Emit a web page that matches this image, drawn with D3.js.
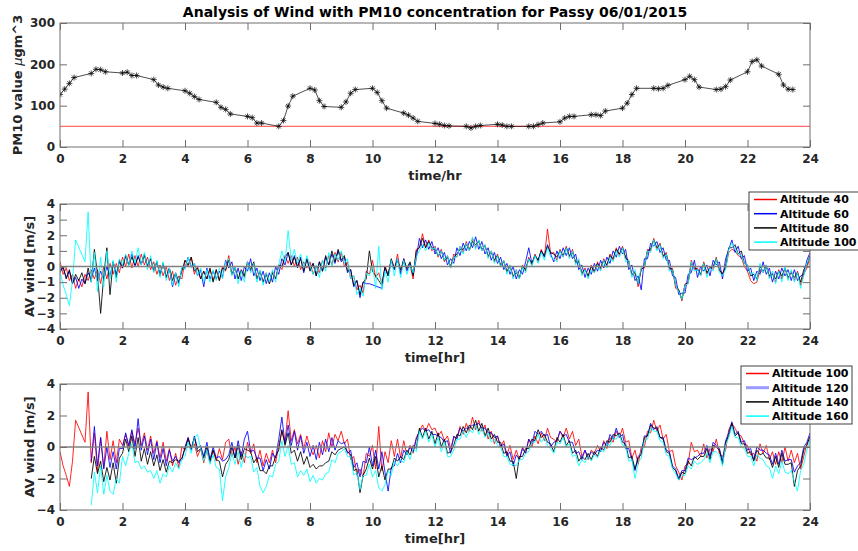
<!DOCTYPE html>
<html><head><meta charset="utf-8">
<script src="https://cdn.jsdelivr.net/npm/d3@7"></script>
<style>
body{margin:0;background:#fff;}
svg{display:block;font-family:"DejaVu Sans",sans-serif;font-weight:bold;}
</style>
</head><body>
<svg id="chart" width="858" height="551"></svg>
<script>
// ---------------- DATA ----------------
const titleText = "Analysis of Wind with PM10 concentration for Passy 06/01/2015";
const xTicks = [0,2,4,6,8,10,12,14,16,18,20,22,24];
const pm10Ticks = [0,100,200,300];
const wind2Ticks = [-4,-3,-2,-1,0,1,2,3,4];
const wind3Ticks = [-4,-2,0,2,4];
const pm10Limit = 50;

const pm10Times = [
 0,0.15,0.3,0.45, 1,1.15,1.3,1.45, 2,2.15,2.3,2.45, 3,3.15,3.3,3.45,
 4,4.15,4.3,4.45, 5,5.15,5.3,5.45, 6,6.15,6.3,6.45, 7,7.15,7.3,7.45,
 8,8.15,8.3,8.45, 9,9.15,9.3,9.45, 10,10.15,10.3,10.45, 11,11.15,11.3,11.45,
 12,12.15,12.3,12.45, 13,13.15,13.3,13.45, 14,14.15,14.3,14.45, 15,15.15,15.3,15.45,
 16,16.15,16.3,16.45, 17,17.15,17.3,17.45, 18,18.15,18.3,18.45, 19,19.15,19.3,19.45,
 20,20.15,20.3,20.45, 21,21.15,21.3,21.45, 22,22.15,22.3,22.45, 23,23.15,23.3,23.45];
const pm10Values = [
 127,140,154,168, 178,188,187,182, 179,181,173,173, 163,150,145,142,
 136,130,122,115, 108,96,91,80, 74,71,58,58, 50,64,99,123,
 142,138,112,98, 96,109,130,139, 142,132,112,94, 82,77,70,62,
 57,55,52,51, 50,46,50,52, 55,53,50,50, 50,50,54,58,
 61,70,74,74, 78,78,76,87, 94,106,127,142, 142,141,142,149,
 163,171,163,145, 139,140,146,162, 182,207,211,196, 176,150,140,139];

// wind samples every 0.1 h from 0 to 24 h (null = no sample)
const windStep = 0.1;
const wind40 = [
 0.3,-0.5,-0.1,-0.9,-0.5,-1.4,-0.8,-1.3,-0.5,-0.9,
 -0.2,-0.8,-0.2,-1.1,0.0,-0.8,0.2,-0.5,0.2,-0.4,
 0.6,0.0,0.8,-0.1,0.7,0.0,0.8,0.1,0.6,-0.2,
 0.3,-0.5,0.1,-0.6,0.0,-0.9,-0.3,-1.2,-0.6,-0.8,
 0.4,0.0,0.6,-0.5,0.0,-0.8,-0.3,-0.8,-0.2,-0.9,
 -0.2,-0.9,0.0,-0.3,0.7,-0.5,0.0,-0.8,-0.3,-0.7,
 0.3,-0.3,0.2,-0.8,-0.3,-1.0,-0.4,-1.1,-0.3,-0.8,
 0.1,-0.2,0.7,0.2,0.7,0.0,0.6,-0.2,0.3,-0.1,
 0.3,-0.5,0.0,-0.4,0.4,-0.1,0.7,0.1,0.9,0.3,
 0.9,0.0,0.3,-0.8,-0.6,-1.5,-1.2,-1.7,-0.3,-0.5,
 0.4,-0.7,-0.4,-1.1,0.0,-0.5,0.4,-0.2,0.8,-0.4,
 0.5,-0.2,0.1,-0.8,1.1,1.2,2.1,1.2,1.7,1.0,
 1.3,0.6,1.1,0.3,0.7,-0.1,0.8,0.6,1.3,0.9,
 1.6,1.0,1.8,1.2,1.7,1.0,1.4,0.6,1.0,0.3,
 0.8,0.0,0.4,-0.4,0.1,-0.7,-0.2,-0.8,0.1,-0.3,
 0.6,0.1,0.8,0.3,1.1,0.6,2.4,0.8,0.9,0.4,
 1.1,0.6,1.3,0.6,1.1,0.2,0.4,-0.5,-0.1,-0.7,
 0.1,-0.4,0.3,-0.2,0.5,0.0,0.8,0.4,1.2,0.7,
 1.3,0.5,0.4,-0.6,-0.3,-1.3,-0.1,-0.1,1.1,1.0,
 1.8,1.1,1.5,0.6,0.9,-0.2,-0.1,-1.4,-1.5,-2.2,
 -1.1,-1.1,0.4,-0.2,-0.1,-0.6,0.3,-0.5,0.0,-0.2,
 0.6,-0.3,-0.4,-0.1,0.9,1.1,1.0,0.7,0.6,0.0,
 -0.3,-0.9,-1.1,-1.0,-0.2,-0.4,0.1,-0.7,-0.4,-1.0,
 -0.2,-0.8,-0.1,-0.8,-0.3,-0.9,-0.3,-1.2,-0.5,-0.1,
 0.6];
const wind60 = [
 -0.2,-0.1,-0.7,-0.3,-1.1,-0.7,-1.4,-0.8,-1.1,-0.4,
 -0.8,-0.1,-0.9,-0.3,-0.8,0.0,-0.6,0.3,-0.5,0.3,
 -0.1,0.7,0.1,0.8,0.0,0.7,0.1,0.8,0.0,0.5,
 -0.3,0.3,-0.6,0.2,-0.7,-0.1,-1.3,-0.5,-1.1,-0.1,
 -0.1,0.6,0.0,0.2,-0.6,-0.2,-1.3,-0.1,-0.8,-0.3,
 -0.8,-0.3,-0.7,0.4,-0.1,0.3,-0.8,-0.1,-0.9,0.0,
 -0.3,0.5,-0.6,-0.1,-0.9,-0.3,-1.1,-0.4,-1.0,0.0,
 -0.5,0.5,0.1,0.9,0.1,0.7,-0.1,0.6,-0.4,0.5,
 -0.2,0.2,-0.6,0.3,-0.3,0.6,0.1,0.8,0.2,1.0,
 0.3,0.6,-0.4,-0.2,-1.3,-0.9,-2.0,-1.0,-1.1,-1.1,
 null,null,null,-1.4,-0.1,-0.6,0.4,-0.2,0.5,-0.5,
 0.5,-0.3,0.2,-0.5,0.5,1.8,1.2,1.7,1.1,1.6,
 0.8,1.2,0.5,0.9,0.1,0.5,0.2,1.2,0.7,1.5,
 1.0,1.6,1.2,1.9,1.1,1.6,0.8,1.2,0.4,0.9,
 0.2,0.6,-0.2,0.2,-0.5,0.0,-0.8,-0.2,-0.5,0.3,
 1.2,0.2,0.7,0.4,1.0,0.6,1.4,0.8,0.3,1.0,
 0.5,1.2,0.7,1.2,0.5,0.8,-0.2,0.1,-0.7,-0.1,
 -0.5,0.2,-0.3,0.4,-0.1,0.6,0.2,1.0,0.6,1.3,
 0.8,1.1,-0.2,0.1,-0.9,-0.6,-1.5,0.5,0.5,1.5,
 1.3,1.6,0.9,1.2,0.4,0.4,-0.6,-0.7,-1.8,-1.7,
 -1.7,-0.5,-0.4,0.4,-0.7,0.0,-0.3,0.1,-0.6,0.4,
 0.1,0.3,-0.8,0.5,1.1,1.7,0.9,1.3,0.5,0.7,
 -0.3,-0.1,-0.9,-0.3,-0.5,0.3,-0.5,-0.1,-1.0,-0.3,
 -0.8,-0.1,-0.6,-0.2,-0.9,-0.2,-0.9,-0.6,-0.5,0.4,
 0.9];
const wind80 = [
 -0.4,0.0,-0.8,-0.2,-1.1,-0.5,-0.9,-0.4,-1.1,-0.1,
 -1.0,1.1,-0.5,-3.0,-0.6,1.2,-1.8,0.3,-0.7,0.4,
 -0.1,0.7,0.1,0.6,0.1,0.6,0.2,0.7,0.0,0.5,
 -0.3,0.3,-0.5,0.2,-0.7,-0.1,-0.9,-0.4,-1.0,-0.3,
 0.4,0.1,0.6,-0.3,-0.1,-0.8,-0.3,-0.8,-0.1,-1.0,
 -0.2,-0.9,-0.1,-0.2,0.4,-0.5,-0.1,-0.8,-0.2,-0.6,
 0.3,-0.2,0.3,-0.8,-0.3,-1.0,-0.5,-1.1,-0.4,-0.8,
 0.1,0.0,0.6,0.9,0.1,0.6,0.0,0.5,-0.3,0.5,
 -0.3,0.2,-0.6,0.3,-0.3,0.7,0.1,1.0,0.3,1.1,
 0.4,0.7,-0.3,-0.2,-1.2,-0.9,-1.8,-1.0,-0.8,1.0,
 -0.3,-0.6,-0.9,-1.2,0.0,-0.6,0.5,-0.1,0.4,-0.2,
 0.4,-0.1,0.3,-0.6,1.0,1.2,1.8,1.2,1.6,1.2,
 1.1,0.7,1.0,0.4,0.6,0.0,0.6,0.8,1.1,1.1,
 1.4,1.1,1.6,1.4,1.6,1.1,1.3,0.7,0.9,0.4,
 0.7,0.1,0.3,-0.3,0.0,-0.6,-0.4,-0.7,0.0,-0.2,
 0.5,0.2,0.7,0.4,1.0,0.7,1.3,0.9,0.8,0.6,
 1.0,0.7,1.2,0.7,0.9,0.3,0.3,-0.4,-0.2,-0.6,
 0.0,-0.3,0.2,-0.1,0.4,0.1,0.7,0.5,1.1,0.8,
 1.2,0.6,0.3,-0.5,-0.4,-1.1,-0.2,0.0,1.0,1.1,
 1.7,1.2,1.4,0.7,0.8,-0.1,-0.2,-1.2,-1.5,-2.1,
 -1.2,-1.0,0.2,-0.1,-0.2,-0.5,0.2,-0.4,-0.1,0.0,
 0.5,-0.2,-0.5,0.0,1.2,1.2,1.4,0.8,1.0,0.2,
 0.1,-0.6,-0.5,-0.8,0.0,-0.3,0.0,-0.6,-0.5,-0.8,
 -0.3,-0.6,-0.1,-0.7,-0.4,-0.7,-0.4,-1.0,-0.2,0.1,
 0.7];
const wind100 = [
 -0.3,-1.2,-1.8,-2.5,-0.9,1.7,null,null,0.3,3.5,
 -1.0,0.9,-1.6,0.6,-1.3,1.0,-0.8,0.4,-1.0,0.5,
 0.1,0.8,0.0,1.0,0.2,1.2,0.1,0.9,-0.2,0.7,
 -0.4,0.4,-0.7,0.3,-0.9,-0.1,-1.2,-0.4,-1.3,0.0,
 -0.2,0.6,-0.1,0.2,-0.6,-0.1,-1.0,-0.2,-1.0,-0.2,
 -0.9,-0.1,-0.8,0.3,0.5,-0.6,0.0,-1.1,-0.3,-1.0,
 0.3,-0.4,0.2,-1.0,-0.2,-1.2,-0.4,-1.0,-0.2,-1.0,
 0.1,1.0,0.3,2.3,0.4,1.1,0.2,0.8,-0.1,0.7,
 0.0,-0.5,0.1,-0.7,0.4,-0.3,0.9,0.0,0.8,0.4,
 1.0,0.2,0.5,-0.8,-0.6,-1.8,-1.4,-1.9,-0.4,-0.6,
 0.1,-1.4,1.3,-1.5,-0.3,-1.0,0.4,-0.6,0.5,-0.7,
 0.4,-0.5,0.1,-0.4,0.6,1.0,1.4,1.0,1.5,1.1,
 1.2,0.7,1.0,0.4,0.7,-0.1,0.6,0.6,1.3,0.8,
 1.5,1.0,1.9,1.1,1.7,1.0,1.4,0.5,1.0,0.2,
 0.7,0.0,0.4,-0.5,0.1,-0.8,-0.2,-0.8,0.0,-0.4,
 0.5,0.0,0.7,0.2,0.9,0.4,1.2,0.6,0.5,0.3,
 1.0,0.6,1.2,0.5,1.0,0.1,0.5,-0.6,-0.2,-0.8,
 -0.2,-0.4,0.1,-0.3,0.4,-0.1,0.6,0.3,1.0,0.6,
 1.2,0.3,0.4,-0.7,-0.2,-1.1,0.0,0.0,1.0,0.9,
 1.7,1.0,1.4,0.5,0.8,-0.3,-0.2,-1.2,-1.6,-2.1,
 -1.2,-1.1,0.3,-0.3,-0.2,-0.6,0.2,-0.7,-0.1,-0.3,
 0.5,-0.4,-0.6,-0.2,1.1,1.5,1.2,0.8,0.7,0.2,
 0.1,-0.5,-0.4,-0.9,0.2,-0.4,0.1,-0.8,-0.3,-1.1,
 -0.3,-1.0,0.0,-0.9,-0.2,-1.0,-0.4,-1.4,-0.6,0.2,
 0.6];
const wind120 = [
 null,null,null,null,null,null,null,null,null,null,
 -0.9,1.3,-1.2,0.6,-1.4,0.0,-1.3,-0.3,-1.4,-0.1,
 -0.1,0.9,0.1,1.1,-0.1,1.8,-0.2,0.7,-0.5,0.5,
 -0.8,0.3,-1.0,-0.1,-1.2,-0.2,-0.9,-0.6,-1.0,-0.8,
 0.0,0.6,-0.2,0.7,-0.1,0.1,-0.6,0.3,-0.8,0.0,
 -0.7,-0.6,-0.9,-0.8,-0.5,0.3,-0.7,0.4,-0.6,0.5,
 1.0,-0.3,-0.2,-0.7,-0.7,-1.5,-0.8,-1.4,-0.4,-0.7,
 0.5,1.9,0.2,1.4,0.1,1.0,-0.2,0.7,-0.4,0.3,
 -0.6,0.1,-0.8,0.3,-0.5,0.5,-0.3,0.6,-0.2,0.4,
 0.2,0.3,-0.4,-0.2,-1.3,-1.0,-1.9,-0.9,-1.0,0.0,
 -1.2,-0.2,-1.4,-0.3,-1.6,-2.8,-1.3,-1.2,-0.4,-1.0,
 -0.2,-0.5,0.0,-0.3,0.5,1.0,1.2,1.0,1.1,0.8,
 0.8,0.7,0.6,0.3,0.4,-0.4,0.7,0.5,1.2,1.0,
 1.2,1.2,1.4,1.4,1.5,1.2,1.2,0.9,0.9,0.6,
 0.7,0.0,0.2,-0.6,-0.3,-1.2,-0.5,-0.8,-0.1,-0.4,
 0.5,0.2,1.0,0.8,1.0,0.7,0.8,0.0,0.3,0.4,
 1.0,0.7,0.8,0.3,0.3,-0.4,-0.3,-0.8,-0.2,-0.7,
 -0.3,-0.5,-0.2,-0.3,0.3,0.1,0.8,0.5,1.2,0.6,
 0.8,-0.1,-0.1,-0.8,-1.5,-0.6,-0.4,0.7,0.7,1.5,
 1.1,1.3,0.6,0.6,-0.2,-0.3,-1.2,-1.4,-2.0,-1.5,
 -1.5,-0.7,-0.8,-0.7,-0.6,-0.4,-0.4,0.1,-0.6,0.3,
 0.1,-0.1,-0.9,0.4,0.9,1.6,0.8,1.0,0.3,0.4,
 -0.2,-0.1,-0.8,0.0,-0.2,-0.2,-0.4,-0.5,-1.1,-0.4,
 -1.1,-0.2,-0.9,-0.8,-0.8,-1.6,-1.2,-1.0,0.0,0.3,
 0.9];
const wind140 = [
 null,null,null,null,null,null,null,null,null,null,
 -2.0,-0.6,-1.7,-0.9,-2.2,-1.3,-2.1,-1.0,-2.3,-0.7,
 -0.4,0.5,-0.3,0.7,-0.6,0.6,-0.9,-0.1,-1.1,-0.3,
 -1.2,-0.5,-1.5,-0.8,-1.6,-0.9,-1.0,-0.8,-0.9,-0.7,
 -0.1,0.5,-0.1,0.6,-0.3,-0.1,-0.7,0.0,-0.9,-0.2,
 -0.8,-0.9,-1.9,-1.1,-0.8,0.0,-0.7,0.1,-0.8,-0.1,
 -0.2,-0.3,-1.0,-0.7,-1.5,-1.5,-1.7,-1.2,-1.2,-0.6,
 -0.2,1.1,0.1,0.9,-0.4,-0.2,-0.9,-0.3,-1.1,-0.6,
 -1.3,-1.1,-1.4,-1.2,-1.2,-1.0,-0.9,-0.3,-0.5,-0.2,
 -0.1,0.0,-0.3,-0.5,-1.5,-1.4,-2.9,-1.8,-1.4,-0.7,
 -1.4,-0.6,-1.9,-1.2,-2.1,-1.4,-1.4,-0.7,-0.9,-0.6,
 -0.8,-0.2,-0.5,0.1,-0.1,1.2,0.6,1.2,0.5,1.0,
 0.2,0.9,0.0,0.5,-0.4,-0.3,0.1,0.8,0.7,1.3,
 0.9,1.4,1.1,1.7,1.0,1.5,0.7,1.2,0.5,0.8,
 0.3,0.3,-0.4,-0.3,-0.9,-0.9,-2.0,-0.6,-0.6,-0.1,
 -0.1,0.5,0.4,1.1,0.6,0.8,0.3,0.2,-0.3,0.6,
 0.3,0.8,0.1,0.4,-0.4,-0.2,-0.9,-0.6,-0.8,-0.4,
 -0.8,-0.3,-0.6,0.0,-0.2,0.4,0.3,0.8,0.7,0.9,
 0.3,0.2,-0.7,-0.6,-1.4,-0.7,-0.5,0.6,0.7,1.4,
 1.2,1.2,0.6,0.5,-0.3,-0.4,-1.3,-1.5,-2.1,-1.6,
 -1.7,-0.9,-1.2,-0.6,-0.8,-0.6,-0.6,-0.1,-0.8,0.1,
 0.0,-0.2,-1.1,0.3,0.7,1.5,0.7,0.9,0.2,0.2,
 -0.4,-0.3,-0.9,-0.2,-0.5,-0.4,-0.7,-0.7,-1.3,-0.6,
 -1.3,-0.4,-1.1,-1.1,-1.0,-2.5,-1.5,-1.2,-0.2,0.1,
 0.7];
const wind160 = [
 null,null,null,null,null,null,null,null,null,null,
 -3.7,-1.6,-2.9,-1.2,-3.0,-1.8,-2.8,-3.0,-2.0,-2.3,
 -0.6,-1.2,-0.4,0.2,-1.0,-0.9,-1.4,-1.2,-1.6,-1.5,
 -2.0,-1.5,-2.3,-1.7,-1.9,-1.2,-1.6,-1.0,-1.4,-0.8,
 -0.6,0.3,-0.4,0.6,0.8,-0.1,-0.9,-0.2,-1.1,-0.5,
 -1.3,-1.4,-3.4,-1.9,-1.3,-0.4,-1.1,-0.3,-1.3,-0.4,
 -0.7,-0.6,-1.6,-1.3,-2.5,-2.9,-2.5,-1.8,-1.9,-1.1,
 -0.9,0.4,-0.6,0.1,-1.1,-1.0,-1.9,-1.5,-1.8,-1.4,
 -2.2,-1.8,-2.3,-2.0,-2.1,-1.7,-1.6,-0.8,-1.0,-0.4,
 -0.3,-0.1,-0.6,-0.6,-1.8,-1.6,-2.7,-1.8,-1.8,-1.1,
 -1.9,-1.5,-2.6,-2.8,-2.4,-1.5,-1.8,-0.9,-1.2,-0.8,
 -1.0,-0.3,-0.8,-0.1,-0.3,1.0,0.5,1.0,0.3,0.8,
 0.0,0.6,-0.3,0.3,-0.6,-0.6,-0.2,0.5,0.5,1.0,
 0.6,1.1,0.9,1.4,0.8,1.2,0.6,0.9,0.3,0.5,
 0.1,0.0,-0.6,-0.6,-1.1,-1.1,-1.2,-0.8,-0.8,-0.4,
 -0.3,0.3,0.3,0.8,0.3,0.6,0.1,-0.1,-0.4,0.3,
 0.2,0.6,0.0,0.2,-0.6,-0.5,-1.2,-0.8,-1.0,-0.6,
 -0.9,-0.5,-0.7,-0.2,-0.3,0.2,0.1,0.6,0.5,0.8,
 0.1,0.0,-0.9,-0.8,-2.0,-1.0,-0.7,0.4,0.5,1.2,
 1.0,1.0,0.4,0.3,-0.5,-0.6,-1.4,-1.7,-2.1,-1.8,
 -1.8,-1.2,-1.4,-0.9,-1.1,-1.0,-0.8,-0.4,-1.0,-0.3,
 -0.3,-0.5,-1.2,0.1,0.6,1.3,0.6,0.6,0.0,-0.1,
 -0.6,-0.6,-1.2,-0.5,-0.7,-0.8,-1.2,-1.3,-2.0,-1.2,
 -1.7,-0.9,-1.6,-1.7,-1.5,-2.2,-2.8,-1.5,-1.1,-0.2,
 0.5];

const panel2Names = ["Altitude 40","Altitude 60","Altitude 80","Altitude 100"];
const panel3Names = ["Altitude 100","Altitude 120","Altitude 140","Altitude 160"];
const seriesColors = ["#ff0000","#0000ff","#000000","#00ffff"];

// ---------------- DRAW ----------------
const svg = d3.select("#chart");
const L = 60, R = 810;
const x = d3.scaleLinear().domain([0,24]).range([L,R]);
const axisColor = "#6e6e6e", textColor = "#262626";

svg.append("text").attr("x",(L+R)/2).attr("y",17).attr("text-anchor","middle")
  .attr("font-size",14).attr("fill","#000").text(titleText);

function drawAxes(g, y, yTicks, top, bottom, xLabel, yLabel, yLabelX){
  g.append("g").attr("transform",`translate(0,${bottom})`)
    .call(d3.axisBottom(x).tickValues(xTicks).tickSize(-7).tickSizeOuter(0).tickPadding(7.5));
  g.append("g").attr("transform",`translate(0,${top})`)
    .call(d3.axisTop(x).tickValues(xTicks).tickSize(-7).tickSizeOuter(0).tickFormat(""));
  g.append("g").attr("transform",`translate(${L},0)`)
    .call(d3.axisLeft(y).tickValues(yTicks).tickSize(-7).tickSizeOuter(0).tickPadding(5));
  g.append("g").attr("transform",`translate(${R},0)`)
    .call(d3.axisRight(y).tickValues(yTicks).tickSize(-7).tickSizeOuter(0).tickFormat(""));
  g.selectAll(".domain").remove();
  g.selectAll(".tick line").attr("stroke",axisColor);
  g.selectAll(".tick text").attr("fill",textColor).attr("font-size",12)
    .attr("font-family","DejaVu Sans").attr("font-weight","bold");
  g.append("rect").attr("x",L).attr("y",top).attr("width",R-L).attr("height",bottom-top)
    .attr("fill","none").attr("stroke",axisColor).attr("stroke-width",1);
  g.append("text").attr("x",(L+R)/2).attr("y",bottom+33).attr("text-anchor","middle")
    .attr("font-size",13).attr("fill",textColor).text(xLabel);
  const yl = g.append("text").attr("transform",`translate(${yLabelX},${(top+bottom)/2}) rotate(-90)`)
    .attr("text-anchor","middle").attr("font-size",13).attr("fill",textColor);
  if (Array.isArray(yLabel)) {
    yLabel.forEach(p => { const t = yl.append("tspan").text(p.t); if (p.i) t.attr("font-style","italic").attr("font-weight","normal"); });
  } else yl.text(yLabel);
}

function clip(id, top, bottom){
  svg.append("clipPath").attr("id",id).append("rect")
    .attr("x",L).attr("y",top).attr("width",R-L).attr("height",bottom-top);
}

// ---- Panel 1 ----
{
  const top = 23, bottom = 147;
  const y = d3.scaleLinear().domain([0,300]).range([bottom,top]);
  clip("c1", top, bottom);
  const g = svg.append("g");
  const dg = g.append("g").attr("clip-path","url(#c1)");
  dg.append("line").attr("x1",x(0)).attr("x2",x(24)).attr("y1",y(pm10Limit)).attr("y2",y(pm10Limit))
    .attr("stroke","#ff6a6a").attr("stroke-width",1.4);
  const pts = pm10Times.map((t,i)=>({t, v: pm10Values[i]}));
  dg.append("path").datum(pts)
    .attr("d", d3.line().x(d=>x(d.t)).y(d=>y(d.v)))
    .attr("fill","none").attr("stroke","#000").attr("stroke-width",0.7);
  const star = "M-3,0H3M0,-3V3M-2.1,-2.1L2.1,2.1M-2.1,2.1L2.1,-2.1";
  dg.selectAll(".m").data(pts).join("path")
    .attr("transform", d=>`translate(${x(d.t)},${y(d.v)})`)
    .attr("d", star).attr("stroke","#000").attr("stroke-width",0.7).attr("fill","none");
  drawAxes(g, y, pm10Ticks, top, bottom, "time/hr",
    [{t:"PM10 value "},{t:"μ",i:true},{t:"gm^3"}], 22);
}

function windPanel(id, top, bottom, yTicks, seriesList, names, legend){
  const y = d3.scaleLinear().domain([-4,4]).range([bottom,top]);
  clip(id, top, bottom);
  const g = svg.append("g");
  const dg = g.append("g").attr("clip-path",`url(#${id})`);
  const line = d3.line().x(d=>x(d.t)).y(d=>y(d.v));
  seriesList.forEach((vals,k)=>{
    const pts = vals.map((v,i)=>({t:i*windStep, v})).filter(d=>d.v!==null);
    dg.append("path").datum(pts).attr("d",line).attr("fill","none")
      .attr("stroke",seriesColors[k]).attr("stroke-width",1).attr("stroke-opacity",0.85)
      .attr("stroke-linejoin","round");
  });
  dg.append("line").attr("x1",x(0)).attr("x2",x(24)).attr("y1",y(0)).attr("y2",y(0))
    .attr("stroke","#808080").attr("stroke-width",1.5);
  drawAxes(g, y, yTicks, top, bottom, "time[hr]", "AV wind [m/s]", 34);
  // legend
  const lg = svg.append("g");
  lg.append("rect").attr("x",legend.x).attr("y",legend.y).attr("width",legend.w).attr("height",legend.h)
    .attr("fill","#fff").attr("stroke","#404040").attr("stroke-width",1);
  names.forEach((n,k)=>{
    const yy = legend.y + 7.5 + k*14.2;
    const sample = legend.samples ? legend.samples[k] : {};
    lg.append("line").attr("x1",legend.x+5).attr("x2",legend.x+28).attr("y1",yy).attr("y2",yy)
      .attr("stroke", sample.c || seriesColors[k]).attr("stroke-width", sample.w || 1.5);
    lg.append("text").attr("x",legend.x+31).attr("y",yy).attr("dy","0.35em")
      .attr("font-size",11).attr("fill","#000").text(n);
  });
}

windPanel("c2", 204, 329, wind2Ticks, [wind40,wind60,wind80,wind100], panel2Names,
  {x:749, y:192, w:120, h:58});
windPanel("c3", 384, 510, wind3Ticks, [wind100,wind120,wind140,wind160], panel3Names,
  {x:741, y:366, w:111, h:58, samples:[{},{c:"#9a9aff",w:3},{},{}]});
</script>
</body></html>
